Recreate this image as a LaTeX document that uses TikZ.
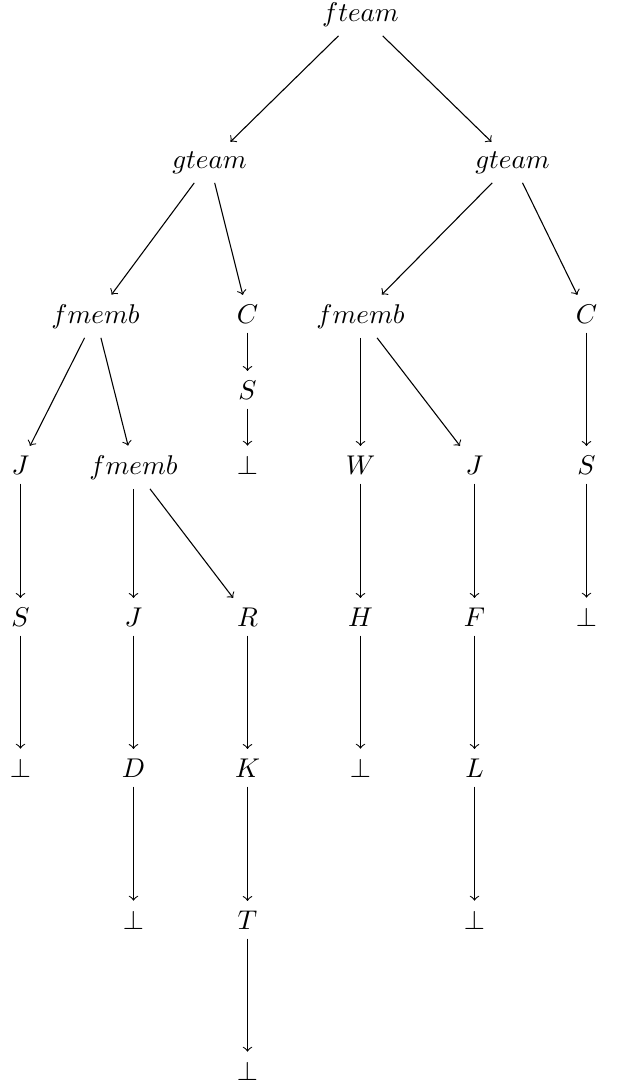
\documentclass[tikz,border=0pt]{standalone}
\begin{document}
\begin{tikzpicture}[x=0.369pt,y=-0.369pt,
  lbl/.style={anchor=base, inner sep=3.33pt},
  edge/.style={->, line width=0.4pt}]
\useasboundingbox (0,0) rectangle (616,1084);
% row 0
\node[lbl] (ft) at (360.5,21) {$fteam$};
% row 1
\node[lbl] (gl) at (209.5,168) {$gteam$};
\node[lbl] (gr) at (512.5,168) {$gteam$};
% row 2
\node[lbl] (fl) at (95.5,323) {$fmemb$};
\node[lbl] (cl) at (247.5,323) {$C$};
\node[lbl] (fr) at (360.5,323) {$fmemb$};
\node[lbl] (cr) at (586.5,323) {$C$};
% mid row
\node[lbl] (sm) at (247.5,399) {$S$};
% row 3
\node[lbl] (bm) at (247.5,474) {$\bot$};
\node[lbl] (j1) at (20.5,474) {$J$};
\node[lbl] (fi) at (133.5,474) {$fmemb$};
\node[lbl] (w) at (360.5,474) {$W$};
\node[lbl] (j2) at (474.5,474) {$J$};
\node[lbl] (s2) at (586.5,474) {$S$};
% row 4
\node[lbl] (s1) at (20.5,626) {$S$};
\node[lbl] (j3) at (133.5,626) {$J$};
\node[lbl] (r) at (247.5,626) {$R$};
\node[lbl] (h) at (360.5,626) {$H$};
\node[lbl] (f) at (474.5,626) {$F$};
\node[lbl] (b2) at (586.5,626) {$\bot$};
% row 5
\node[lbl] (b1) at (20.5,777) {$\bot$};
\node[lbl] (d) at (133.5,777) {$D$};
\node[lbl] (k) at (247.5,777) {$K$};
\node[lbl] (b3) at (360.5,777) {$\bot$};
\node[lbl] (l) at (474.5,777) {$L$};
% row 6
\node[lbl] (b4) at (133.5,929) {$\bot$};
\node[lbl] (t) at (247.5,929) {$T$};
\node[lbl] (b5) at (474.5,929) {$\bot$};
% row 7
\node[lbl] (b6) at (247.5,1080) {$\bot$};
% edges
\draw[edge] (ft) -- (gl);
\draw[edge] (ft) -- (gr);
\draw[edge] (gl) -- (fl);
\draw[edge] (gl) -- (cl);
\draw[edge] (gr) -- (fr);
\draw[edge] (gr) -- (cr);
\draw[edge] (cl) -- (sm);
\draw[edge] (sm) -- (bm);
\draw[edge] (fl) -- (j1);
\draw[edge] (fl) -- (fi);
\draw[edge] (fr) -- (w);
\draw[edge] (fr) -- (j2);
\draw[edge] (cr) -- (s2);
\draw[edge] (j1) -- (s1);
\draw[edge] (fi) -- (j3);
\draw[edge] (fi) -- (r);
\draw[edge] (w) -- (h);
\draw[edge] (j2) -- (f);
\draw[edge] (s2) -- (b2);
\draw[edge] (s1) -- (b1);
\draw[edge] (j3) -- (d);
\draw[edge] (r) -- (k);
\draw[edge] (h) -- (b3);
\draw[edge] (f) -- (l);
\draw[edge] (d) -- (b4);
\draw[edge] (k) -- (t);
\draw[edge] (l) -- (b5);
\draw[edge] (t) -- (b6);
\end{tikzpicture}
\end{document}
